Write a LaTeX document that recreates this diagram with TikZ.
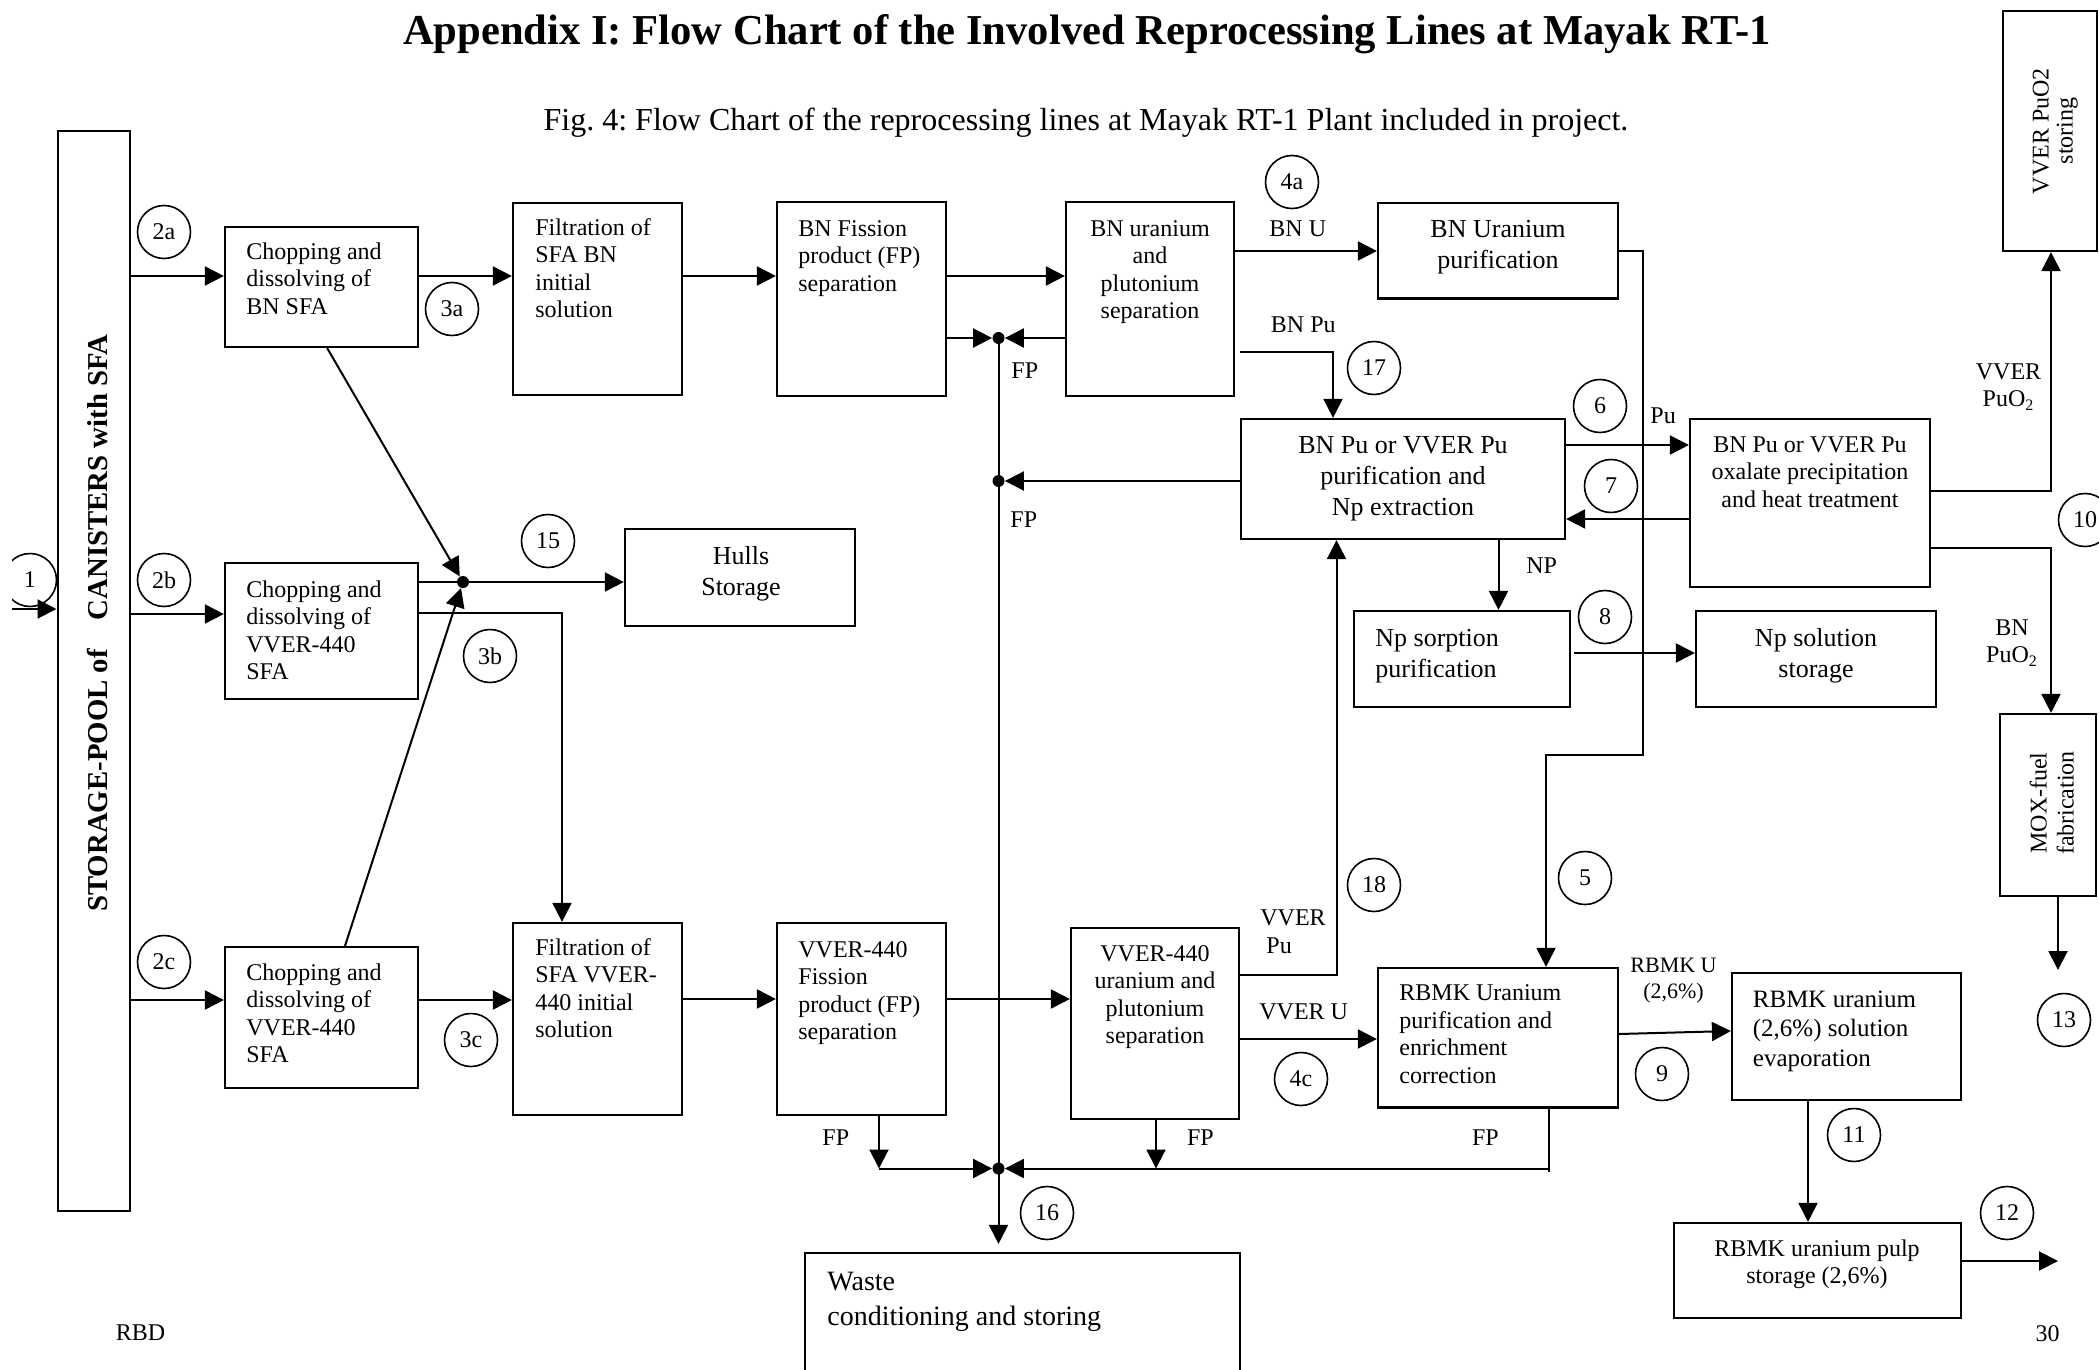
\documentclass[tikz,border=0pt]{standalone}
\usepackage{fontspec}
\setmainfont{Liberation Serif}
\usetikzlibrary{arrows.meta,fit}
\begin{document}
\frenchspacing
\begin{tikzpicture}[x=0.5pt,y=-0.5pt,
  box/.style={draw, line width=1.1pt, inner sep=0pt},
  circ/.style={draw, circle, line width=0.8pt, minimum size=26.5pt, inner sep=0pt, font=\fontsize{12}{14}\selectfont},
  arr/.style={line width=1pt, -{Triangle[length=9.5pt,width=9.5pt]}},
  ln/.style={line width=1pt},
  txt/.style={inner sep=0pt, font=\fontsize{12}{13.8}\selectfont},
  lt/.style={txt, anchor=base west, align=left},
  ct/.style={txt, anchor=base, align=center},
  big/.style={font=\fontsize{13}{15.5}\selectfont},
  dot/.style={fill, circle, inner sep=0pt, minimum size=6pt}
]
\path[use as bounding box] (0,0) rectangle (2099,1370);
\clip (0,0) rectangle (2099,1370);

% titles (anchor base = baseline of the last line)
\node[inner sep=0pt, anchor=base, font=\bfseries\fontsize{21.3}{25}\selectfont] (title) at (1087,45) {Appendix I: Flow Chart of the Involved Reprocessing Lines at Mayak RT-1};
\node[inner sep=0pt, anchor=base, font=\fontsize{16}{19}\selectfont] (caption) at (1086,131) {Fig. 4: Flow Chart of the reprocessing lines at Mayak RT-1 Plant included in project.};

% storage pool
\node[box, fit={(57.6,131) (130,1211)}] (pool) {};
\node[inner sep=0pt, rotate=90, anchor=base, font=\bfseries\fontsize{14.4}{17}\selectfont] at (107,623) {STORAGE-POOL of\hspace{1em}CANISTERS with SFA};

% boxes
\node[box, fit={(225,227) (418,347)}] (chopA) {};
\node[box, fit={(225,563) (418,699)}] (chopB) {};
\node[box, fit={(225,947) (418,1088)}] (chopC) {};
\node[box, fit={(513,203) (682,395)}] (filtA) {};
\node[box, fit={(513,923) (682,1115)}] (filtC) {};
\node[box, fit={(777,202) (946,396)}] (fisA) {};
\node[box, fit={(777,923) (946,1115)}] (fisC) {};
\node[box, fit={(1066,202) (1234,396)}] (uPuA) {};
\node[box, fit={(1071,928) (1239,1119)}] (uPuC) {};
\node[box, fit={(625,529) (855,626)}] (hulls) {};
\node[box, fit={(1378,203) (1618,298.5)}] (bnUp) {};
\node[box, fit={(1241,419) (1565,539)}] (puPur) {};
\node[box, fit={(1690,419) (1930,587)}] (oxal) {};
\node[box, fit={(1354,611) (1570,707)}] (npSorp) {};
\node[box, fit={(1696,611) (1936,707)}] (npSol) {};
\node[box, fit={(1378,968) (1618,1107.5)}] (rbmk) {};
\node[box, fit={(1732,973) (1961,1100)}] (evap) {};
\node[box, fit={(1674,1223) (1961,1318)}] (pulp) {};
\node[box, fit={(805,1253) (1240,1420)}] (waste) {};
\node[box, fit={(2003,11) (2097,251)}] (vverSt) {};
\node[box, fit={(2000,714) (2096,896)}] (mox) {};

% box texts (positions give the baseline of the last line)
\node[lt] at (246,314.2) {Chopping and\\dissolving of\\BN SFA};
\node[lt] at (246,679.8) {Chopping and\\dissolving of\\VVER-440\\SFA};
\node[lt] at (246,1062.8) {Chopping and\\dissolving of\\VVER-440\\SFA};
\node[lt] at (535,317.8) {Filtration of\\SFA BN\\initial\\solution};
\node[lt] at (535,1037.8) {Filtration of\\SFA VVER-\\440 initial\\solution};
\node[lt] at (798,291.2) {BN Fission\\product (FP)\\separation};
\node[lt] at (798,1039.8) {VVER-440\\Fission\\product (FP)\\separation};
\node[ct] at (1150,318.8) {BN uranium\\and\\plutonium\\separation};
\node[ct] at (1155,1043.8) {VVER-440\\uranium and\\plutonium\\separation};
\node[ct, big] at (741,595) {Hulls\\Storage};
\node[ct, big] at (1498,268) {BN Uranium\\purification};
\node[ct, big] at (1403,515) {BN Pu or VVER Pu\\purification and\\Np extraction};
\node[ct] at (1810,507.2) {BN Pu or VVER Pu\\oxalate precipitation\\and heat treatment};
\node[lt, big] at (1375,677) {Np sorption\\purification};
\node[ct, big] at (1816,677) {Np solution\\storage};
\node[lt] at (1399,1083.4) {RBMK Uranium\\purification and\\enrichment\\correction};
\node[lt, font=\fontsize{12.5}{14.75}\selectfont] at (1752.5,1066) {RBMK uranium\\(2,6\%) solution\\evaporation};
\node[ct] at (1817,1283.6) {RBMK uranium pulp\\storage (2,6\%)};
\node[lt, font=\fontsize{14}{17.6}\selectfont] at (827,1325.9) {Waste\\conditioning and storing};
\node[ct, rotate=90, font=\fontsize{12}{12}\selectfont] at (2072.7,131) {VVER PuO2\\storing};
\node[ct, rotate=90, font=\fontsize{12}{13.5}\selectfont] at (2073.5,803) {MOX-fuel\\fabrication};

% labels
\node[lt] at (1269,236) {BN U};
\node[lt] at (1270.5,332) {BN Pu};
\node[lt] at (1011,378) {FP};
\node[lt] at (1010,527) {FP};
\node[lt] at (1650,423) {Pu};
\node[lt] at (1526,573) {NP};
\node[ct] at (2008.5,406.6) {VVER\\PuO\textsubscript{2}};
\node[ct] at (2012,662.6) {BN\\PuO\textsubscript{2}};
\node[lt] at (1260,953.3) {VVER\\\hspace{3pt}Pu};
\node[lt] at (1259,1019.7) {VVER U};
\node[lt] at (822,1145) {FP};
\node[lt] at (1186.6,1145) {FP};
\node[lt] at (1471.7,1145) {FP};
\node[ct, font=\fontsize{11}{13}\selectfont] at (1673.5,998) {RBMK U\\(2,6\%)};
\node[ct] at (140.6,1340) {RBD};
\node[ct] at (2047.5,1341) {30};

% circles
\begin{scope}
\clip (12,500) rectangle (100,650);
\node[circ] (c1) at (30,580) {1};
\end{scope}
\node[circ] (c2a) at (164,232) {2a};
\node[circ] (c2b) at (164,580) {2b};
\node[circ] (c2c) at (164,962) {2c};
\node[circ] (c3a) at (452,309) {3a};
\node[circ] (c3b) at (490,656) {3b};
\node[circ] (c3c) at (471,1040) {3c};
\node[circ] (c4a) at (1292,182) {4a};
\node[circ] (c4c) at (1301,1079) {4c};
\node[circ] (c5) at (1585,878) {5};
\node[circ] (c6) at (1600,406) {6};
\node[circ] (c7) at (1611,486) {7};
\node[circ] (c8) at (1605,617) {8};
\node[circ] (c9) at (1662,1074) {9};
\node[circ] (c10) at (2085,520) {10};
\node[circ] (c11) at (1854,1135) {11};
\node[circ] (c12) at (2007,1213) {12};
\node[circ] (c13) at (2064,1020) {13};
\node[circ] (c15) at (548,541) {15};
\node[circ] (c16) at (1047,1213) {16};
\node[circ] (c17) at (1374,368) {17};
\node[circ] (c18) at (1374,885) {18};

% junction dots
\node[dot] (J1) at (463,582) {};
\node[dot] (J2) at (998.5,338) {};
\node[dot] (J3) at (998.5,481) {};
\node[dot] (J4) at (998.5,1168.5) {};

% connectors
\coordinate (in1) at (12,609);
\draw[arr] (in1) -- (in1 -| pool.west);
\draw[arr] (pool.east |- 0,276) -- (chopA.west |- 0,276);
\draw[arr] (pool.east |- 0,614) -- (chopB.west |- 0,614);
\draw[arr] (pool.east |- 0,1000) -- (chopC.west |- 0,1000);
\draw[arr] (chopA.east |- 0,276) -- (filtA.west |- 0,276);
\draw[arr] (filtA.east |- 0,276) -- (fisA.west |- 0,276);
\draw[arr] (fisA.east |- 0,276) -- (uPuA.west |- 0,276);
\draw[arr] (chopC.east |- 0,1000) -- (filtC.west |- 0,1000);
\draw[arr] (filtC.east |- 0,999) -- (fisC.west |- 0,999);
\draw[arr] (fisC.east |- 0,999) -- (uPuC.west |- 0,999);

\draw[arr] ([xshift=2.85pt]chopA.south) -- (J1);
\draw[arr] ([xshift=11.75pt]chopC.north) -- (J1);
\draw[ln] (chopB.east |- J1) -- (J1);
\draw[arr] (J1) -- (hulls.west |- J1);
\draw[arr] (chopB.east |- 0,613) -| (filtC.north -| 562,0);

\draw[arr] (fisA.east |- J2) -- (J2);
\draw[arr] (uPuA.west |- J2) -- (J2);
\draw[arr] (puPur.west |- J3) -- (J3);
\draw[arr, shorten >=4pt] (J2) -- (waste.north -| J2);
\coordinate (F1) at (879,1168.5);
\coordinate (F2) at (1156,1168.5);
\coordinate (F3) at (1548.7,1168.5);
\draw[arr] (fisC.south -| F1) -- (F1);
\draw[arr] (F1) -- (J4);
\draw[arr] (uPuC.south -| F2) -- (F2);
\draw[ln] (rbmk.south -| F3) -- ([yshift=-1.75pt]F3);
\draw[arr] (F3) -- (J4);

\draw[arr] (uPuA.east |- 0,251) -- (bnUp.west |- 0,251);
\coordinate (bp) at (1240,352);
\draw[arr] (bp) -| (puPur.north -| 1333,0);
\draw[arr] (uPuC.east |- 0,975) -| (puPur.south -| 1336.5,0);
\draw[arr] (uPuC.east |- 0,1039) -- (rbmk.west |- 0,1039);
\draw[arr] (puPur.east |- 0,445) -- (oxal.west |- 0,445);
\draw[arr] (oxal.west |- 0,519) -- (puPur.east |- 0,519);
\draw[arr] (puPur.south -| 1498.5,0) -- (npSorp.north -| 1498.5,0);
\draw[arr] ([xshift=1.5pt]npSorp.east |- 0,653) -- (npSol.west |- 0,653);
\draw[arr] (bnUp.east |- 0,251) -- (1642.5,251) -- (1642.5,755) -- (1546,755) -- (rbmk.north -| 1546,0);
\draw[arr] (rbmk.east |- 0,1034) -- (evap.west |- 0,1031);
\draw[arr] (evap.south -| 1808,0) -- (pulp.north -| 1808,0);
\coordinate (out12) at (2058,1261);
\draw[arr] (pulp.east |- out12) -- (out12);
\draw[arr] (oxal.east |- 0,491) -| (vverSt.south -| 2051,0);
\draw[arr] (oxal.east |- 0,547.5) -| (mox.north -| 2051,0);
\coordinate (out13) at (2058,970);
\draw[arr] (mox.south -| out13) -- (out13);
\end{tikzpicture}
\end{document}
